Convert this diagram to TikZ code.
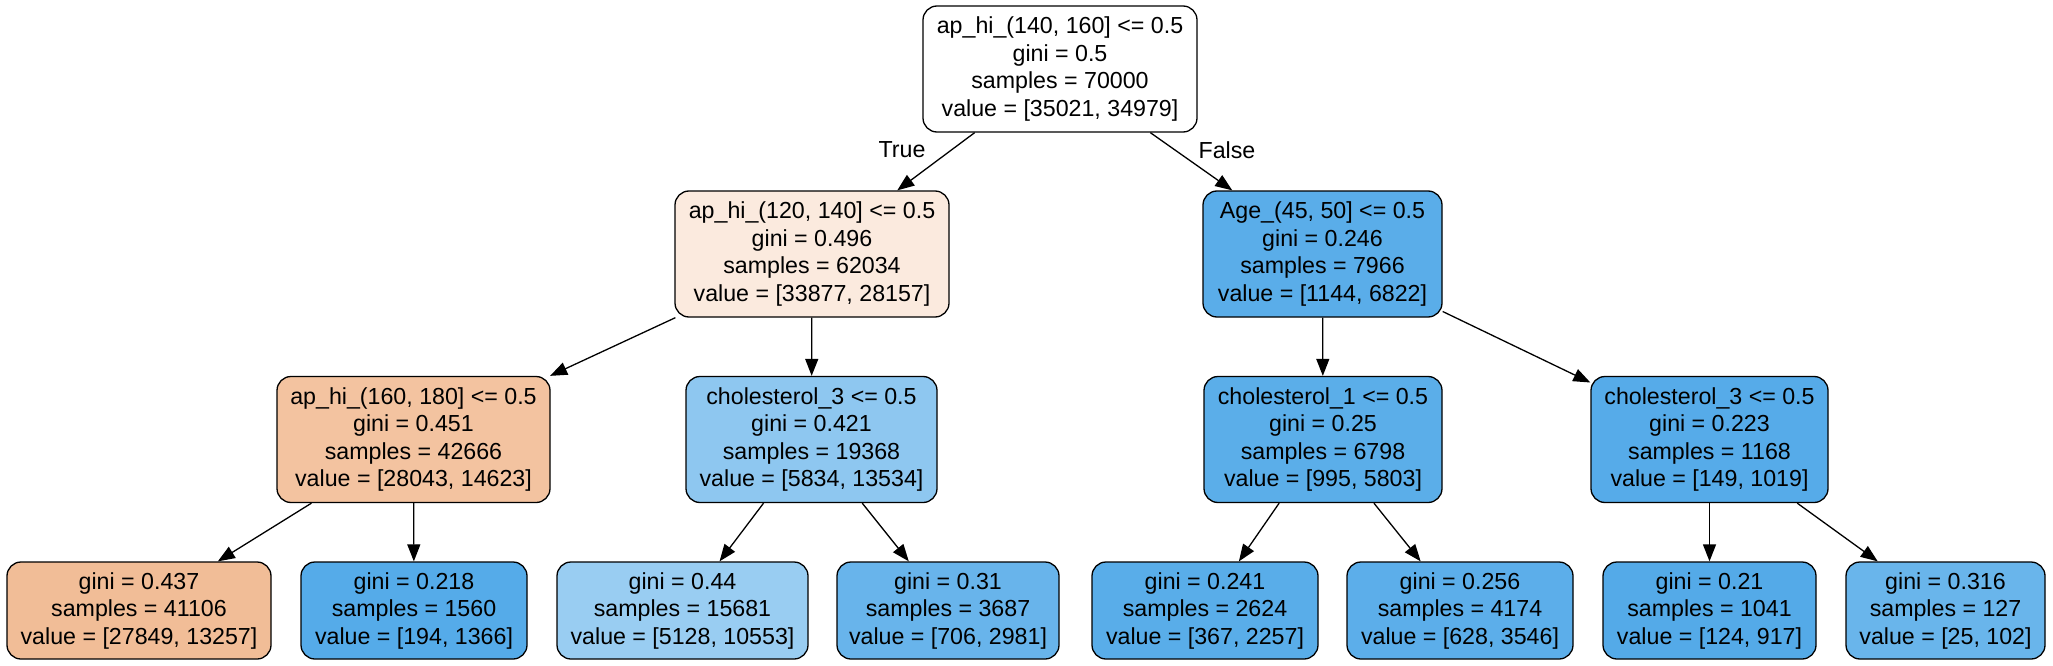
\documentclass[tikz,border=0pt]{standalone}
\usepackage{fontspec}
\setmainfont{Liberation Sans}
\usetikzlibrary{arrows.meta}
\definecolor{cN1}{RGB}{251,234,222}
\definecolor{cN2}{RGB}{90,173,233}
\definecolor{cN3}{RGB}{243,195,160}
\definecolor{cN4}{RGB}{142,199,240}
\definecolor{cN5}{RGB}{91,174,233}
\definecolor{cN6}{RGB}{86,171,233}
\definecolor{cL1}{RGB}{241,189,151}
\definecolor{cL2}{RGB}{85,171,233}
\definecolor{cL3}{RGB}{153,205,242}
\definecolor{cL4}{RGB}{104,180,235}
\definecolor{cL5}{RGB}{89,173,233}
\definecolor{cL6}{RGB}{92,174,234}
\definecolor{cL7}{RGB}{84,170,232}
\definecolor{cL8}{RGB}{105,181,235}
\tikzset{
  tnode/.style={draw=black, rectangle, rounded corners=14pt, line width=1.3pt, align=center,
    inner sep=0pt, font=\fontsize{23.2}{27.5}\selectfont, text=black},
  inner4/.style={tnode, minimum height=126pt},
  leaf3/.style={tnode, minimum height=97pt},
  tedge/.style={-{Triangle[length=17pt,width=13pt]}, line width=1.3pt, draw=black},
  elabel/.style={font=\fontsize{23.2}{27.5}\selectfont, inner sep=0pt}
}
\begin{document}
\begin{tikzpicture}[x=1pt,y=-1pt]
\useasboundingbox (0,0) rectangle (2053,666);
% level 0
\node[inner4, fill=white, minimum width=274pt] (root) at (1060,69)
  {ap\_hi\_(140, 160] <= 0.5\\gini = 0.5\\samples = 70000\\value = [35021, 34979]};
% level 1
\node[inner4, fill=cN1, minimum width=274pt] (n1) at (812,254)
  {ap\_hi\_(120, 140] <= 0.5\\gini = 0.496\\samples = 62034\\value = [33877, 28157]};
\node[inner4, fill=cN2, minimum width=239pt] (n2) at (1322.5,254)
  {Age\_(45, 50] <= 0.5\\gini = 0.246\\samples = 7966\\value = [1144, 6822]};
% level 2
\node[inner4, fill=cN3, minimum width=273pt] (n3) at (413.5,439.5)
  {ap\_hi\_(160, 180] <= 0.5\\gini = 0.451\\samples = 42666\\value = [28043, 14623]};
\node[inner4, fill=cN4, minimum width=251pt] (n4) at (811.5,439.5)
  {cholesterol\_3 <= 0.5\\gini = 0.421\\samples = 19368\\value = [5834, 13534]};
\node[inner4, fill=cN5, minimum width=238pt] (n5) at (1323,439.5)
  {cholesterol\_1 <= 0.5\\gini = 0.25\\samples = 6798\\value = [995, 5803]};
\node[inner4, fill=cN6, minimum width=237pt] (n6) at (1709.5,439.5)
  {cholesterol\_3 <= 0.5\\gini = 0.223\\samples = 1168\\value = [149, 1019]};
% leaves
\node[leaf3, fill=cL1, minimum width=264pt] (l1) at (139,610.5)
  {gini = 0.437\\samples = 41106\\value = [27849, 13257]};
\node[leaf3, fill=cL2, minimum width=226pt] (l2) at (414,610.5)
  {gini = 0.218\\samples = 1560\\value = [194, 1366]};
\node[leaf3, fill=cL3, minimum width=251pt] (l3) at (682.5,610.5)
  {gini = 0.44\\samples = 15681\\value = [5128, 10553]};
\node[leaf3, fill=cL4, minimum width=222pt] (l4) at (948,610.5)
  {gini = 0.31\\samples = 3687\\value = [706, 2981]};
\node[leaf3, fill=cL5, minimum width=226pt] (l5) at (1205,610.5)
  {gini = 0.241\\samples = 2624\\value = [367, 2257]};
\node[leaf3, fill=cL6, minimum width=226pt] (l6) at (1460,610.5)
  {gini = 0.256\\samples = 4174\\value = [628, 3546]};
\node[leaf3, fill=cL7, minimum width=213pt] (l7) at (1709.5,610.5)
  {gini = 0.21\\samples = 1041\\value = [124, 917]};
\node[leaf3, fill=cL8, minimum width=199pt] (l8) at (1945.5,610.5)
  {gini = 0.316\\samples = 127\\value = [25, 102]};
% edges
\draw[tedge] (root) -- (n1);
\draw[tedge] (root) -- (n2);
\draw[tedge] (n1) -- (n3);
\draw[tedge] (n1) -- (n4);
\draw[tedge] (n2) -- (n5);
\draw[tedge] (n2) -- (n6);
\draw[tedge] (n3) -- (l1);
\draw[tedge] (n3) -- (l2);
\draw[tedge] (n4) -- (l3);
\draw[tedge] (n4) -- (l4);
\draw[tedge] (n5) -- (l5);
\draw[tedge] (n5) -- (l6);
\draw[tedge] (n6) -- (l7);
\draw[tedge] (n6) -- (l8);
% edge labels
\node[elabel] (lt) at (902,150) {True};
\node[elabel] (lf) at (1227,150) {False};
\end{tikzpicture}
\end{document}
